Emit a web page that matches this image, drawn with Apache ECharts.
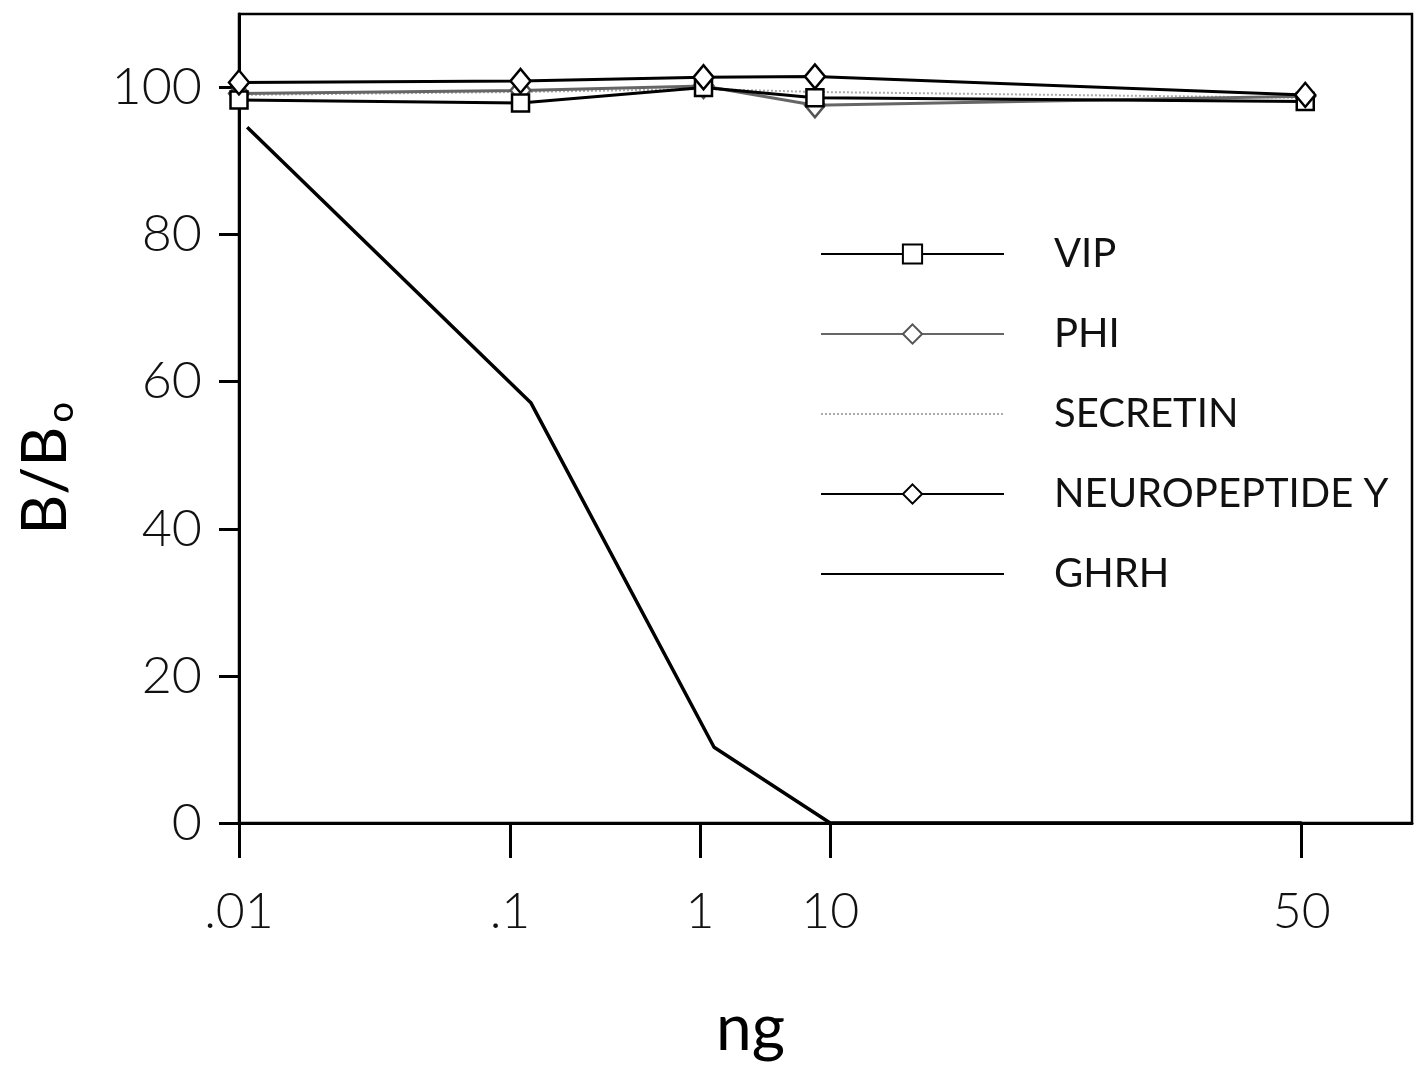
<!DOCTYPE html>
<html>
<head>
<meta charset="utf-8">
<script src="https://cdn.jsdelivr.net/npm/echarts@6/dist/echarts.min.js"></script>
<style>
  html, body { margin: 0; padding: 0; background: #fff; }
  #chart { width: 1417px; height: 1072px; }
</style>
</head>
<body>
<div id="chart"></div>
<script>
// x axis is hand-spaced in the original (not a true log scale), so positions are in axis units 0..100
var xTickPos = [0, 23.1, 39.3, 50.4, 90.6];
var xTickLabels = ['.01', '.1', '1', '10', '50'];

// marker positions of the four flat series
var xPeptide = [0, 24.0, 39.6, 49.1, 90.9];
var vip = [98.3, 97.9, 100.0, 98.6, 98.1];
var phi = [99.2, 99.6, 100.2, 97.6, 98.8];
var secretin = [99.0, 99.4, 99.8, 99.4, 98.6];
var npy = [100.7, 100.9, 101.4, 101.5, 99.0];

// GHRH curve
var xGhrh = [0.7, 24.9, 40.5, 50.4, 90.6];
var ghrh = [94.6, 57.1, 10.3, 0, 0];

var yTicks = [0, 20, 40, 60, 80, 100];

function pairs(xs, ys) {
    return ys.map(function (v, i) { return [xs[i], v]; });
}

var chart = echarts.init(document.getElementById('chart'));
var tickFont = 'Lato, "Open Sans", sans-serif';

var option = {
    backgroundColor: '#fff',
    animation: false,
    grid: {
        left: 239, top: 14, right: 5, bottom: 249,
        show: true, borderColor: '#000', borderWidth: 2.5
    },
    legend: {
        orient: 'vertical',
        left: 815, top: 229,
        itemWidth: 183, itemHeight: 24, itemGap: 40,
        textStyle: { fontFamily: tickFont, fontSize: 40, color: '#111', padding: [0, 0, 0, 45] },
        data: [
            'VIP', 'PHI',
            { name: 'SECRETIN', itemStyle: { opacity: 0 } },
            'NEUROPEPTIDE Y',
            { name: 'GHRH', itemStyle: { opacity: 0 } }
        ]
    },
    xAxis: {
        type: 'value', min: 0, max: 100,
        name: 'ng', nameLocation: 'middle', nameGap: 174,
        nameTextStyle: { fontFamily: tickFont, fontSize: 64, color: '#000', padding: [0, 150, 0, 0] },
        axisLine: { lineStyle: { color: '#000', width: 3 } },
        axisTick: { show: true, length: 35, lineStyle: { color: '#000', width: 3 }, customValues: xTickPos },
        axisLabel: {
            customValues: xTickPos, margin: 64,
            fontFamily: tickFont, fontWeight: 300, fontSize: 50, color: '#111',
            formatter: function (v) {
                var i = xTickPos.indexOf(v);
                return i >= 0 ? xTickLabels[i] : '';
            }
        },
        splitLine: { show: false }
    },
    yAxis: {
        type: 'value', min: 0, max: 110,
        name: 'B/B{sub|o}', nameLocation: 'middle', nameGap: 160,
        nameTextStyle: {
            fontFamily: tickFont, fontSize: 62, color: '#000', padding: [0, 100, 0, 0],
            rich: { sub: { fontFamily: tickFont, fontSize: 36, color: '#000', padding: [30, 0, 0, 4] } }
        },
        axisLine: { lineStyle: { color: '#000', width: 3 } },
        axisTick: { show: true, length: 20, lineStyle: { color: '#000', width: 3 }, customValues: yTicks },
        axisLabel: {
            customValues: yTicks, margin: 37,
            fontFamily: tickFont, fontWeight: 300, fontSize: 52, color: '#111'
        },
        splitLine: { show: false }
    },
    series: [
        {
            name: 'VIP', type: 'line', data: pairs(xPeptide, vip),
            symbol: 'rect', symbolSize: 17, showAllSymbol: true,
            lineStyle: { color: '#000', width: 3 },
            itemStyle: { color: '#fff', borderColor: '#000', borderWidth: 2.5 },
            z: 3
        },
        {
            name: 'PHI', type: 'line', data: pairs(xPeptide, phi),
            symbol: 'diamond', symbolSize: [20, 24],
            lineStyle: { color: '#666', width: 3 },
            itemStyle: { color: '#fff', borderColor: '#555', borderWidth: 2.5 },
            z: 2
        },
        {
            name: 'SECRETIN', type: 'line', data: pairs(xPeptide, secretin),
            symbol: 'none',
            lineStyle: { color: '#aaa', width: 2, type: 'dotted' },
            itemStyle: { color: '#aaa' },
            z: 1
        },
        {
            name: 'NEUROPEPTIDE Y', type: 'line', data: pairs(xPeptide, npy),
            symbol: 'diamond', symbolSize: [20, 24],
            lineStyle: { color: '#000', width: 3 },
            itemStyle: { color: '#fff', borderColor: '#000', borderWidth: 2.5 },
            z: 4
        },
        {
            name: 'GHRH', type: 'line', data: pairs(xGhrh, ghrh),
            symbol: 'none',
            lineStyle: { color: '#000', width: 3.5 },
            itemStyle: { color: '#000' },
            z: 5
        }
    ]
};

chart.setOption(option);
</script>
</body>
</html>
